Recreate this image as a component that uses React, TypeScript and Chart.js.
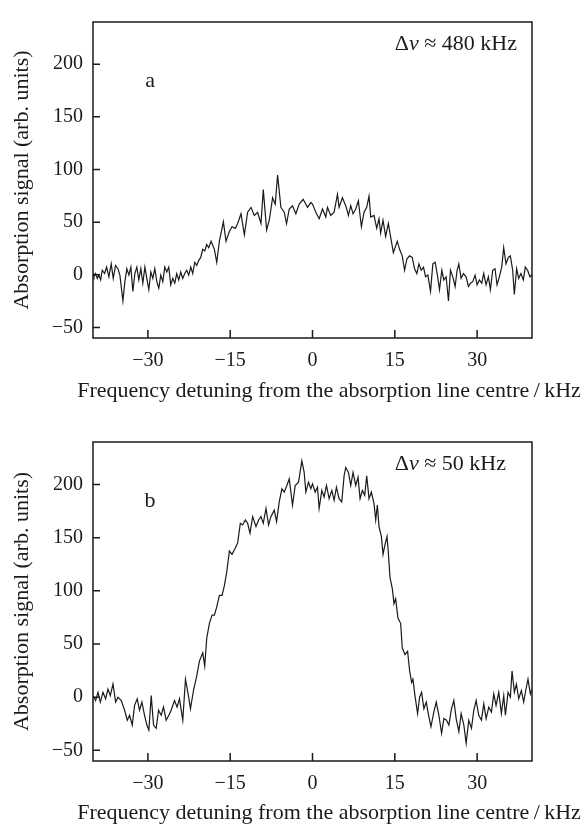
import React, { useEffect, useRef } from 'react';
import { Chart, registerables } from 'chart.js';

Chart.register(...registerables);

// ---- data ----
const X_TICKS = [-30, -15, 0, 15, 30];
const Y_TICKS = [-50, 0, 50, 100, 150, 200];
const X_TITLE = 'Frequency detuning from the absorption line centre\u2009/\u2009kHz';
const Y_TITLE = 'Absorption signal (arb. units)';
const PANEL_LETTERS = ['a', 'b'];
const LINEWIDTH_LABELS = ['480', '50'];

// panel a: detuning (kHz) and absorption signal (arb. units)
const aFreq = [
  -40.0, -39.83, -39.52, -39.22, -38.92, -38.61, -38.31, -37.89, -37.52, -37.1, -36.68, -36.31, -35.89, -35.46,
  -35.1, -34.55, -34.19, -33.83, -33.46, -33.1, -32.74, -32.37, -32.01, -31.65, -31.28, -30.92, -30.55, -30.19,
  -29.83, -29.46, -29.1, -28.74, -28.37, -28.01, -27.65, -27.28, -26.92, -26.55, -26.19, -25.83, -25.46, -25.1,
  -24.74, -24.37, -24.01, -23.65, -23.28, -22.92, -22.55, -22.19, -21.83, -21.46, -21.1, -20.74, -20.37, -20.01,
  -19.64, -19.28, -18.92,
  -18.48, -17.88, -17.45, -16.97, -16.24, -15.76, -15.15, -14.67, -14.06, -13.64, -13.03, -12.42, -11.82, -11.21,
  -10.61, -10.0, -9.39, -8.97, -8.36, -7.88, -7.27, -6.79, -6.36, -5.76, -5.15, -4.73, -4.24, -3.64, -3.03, -2.42,
  -1.7, -0.91, -0.3,
  0.0, 0.61, 1.21, 1.82, 2.42, 2.73, 3.33, 3.94, 4.55, 4.85, 5.45, 6.06, 6.55, 6.97, 7.39, 7.88, 8.36, 8.91,
  9.39, 9.88, 10.3, 10.61, 11.21, 11.7, 12.12, 12.42, 12.85, 13.33, 13.82, 14.12, 14.73, 15.45,
  15.87, 16.35, 16.78, 17.2, 17.69, 18.17, 18.6, 19.02, 19.39, 19.81, 20.23, 20.6, 21.02, 21.51, 21.93, 22.35,
  22.72, 23.14, 23.57, 23.93, 24.35, 24.78, 25.14, 25.57, 25.99, 26.35, 26.66, 27.08, 27.51, 27.99, 28.42, 28.78,
  29.2, 29.63, 29.99, 30.42, 30.84, 31.2, 31.63, 32.05, 32.42, 32.84, 33.26, 33.63, 34.05, 34.48, 34.84, 35.26,
  35.69, 36.05, 36.48, 36.78, 37.2, 37.57, 37.99, 38.42, 38.78, 39.2, 39.63, 40.0,
];
const aSignal = [
  1.2, -1.9, 1.2, -3.4, -0.3, -4.9, 4.3, 1.2, 7.3, -1.9, 10.4, -3.4, 8.9, 5.8,
  -0.3, -24.8, -6.5, 5.8, -0.3, 7.3, -15.7, 1.2, 7.3, -4.9, 5.8, -8.0, 7.3, -3.4,
  -14.1, 2.7, -3.4, 5.8, -6.5, -12.6, -0.3, -6.5, 7.3, 2.7, 7.3, -9.5, -3.4, -8.0,
  1.2, -4.9, 2.7, -3.4, 1.2, 4.3, -0.3, 7.3, 1.2, 11.9, 8.9, 13.5, 16.5, 24.2,
  22.6, 28.8, 25.7,
  31.9, 24.2, 11.9, 31.9, 50.3, 31.9, 41.1, 45.6, 44.1, 48.7, 57.9, 38.0, 59.4, 64.0,
  56.4, 59.4, 48.7, 80.9, 42.6, 51.8, 73.2, 67.1, 94.7, 64.0, 59.4, 48.7, 62.5, 65.6, 57.9, 67.1,
  71.7, 64.0, 68.6,
  67.1, 59.4, 53.3, 62.5, 54.8, 64.0, 56.4, 59.4, 76.3, 64.0, 73.2, 65.6, 56.4, 65.6, 57.9, 62.5, 70.2, 45.6,
  59.4, 64.0, 74.8, 54.8, 56.4, 44.1, 53.3, 39.5, 51.8, 36.5, 48.7, 39.5, 21.1, 31.9,
  24.2, 18.0, 4.3, 15.0, 18.0, 16.5, 5.8, 1.2, 10.4, 4.3, 7.3, -1.9, -0.3, -15.7, 10.4, 11.9,
  1.2, -14.1, 4.3, -4.9, -1.9, -24.8, 4.3, -1.9, -11.1, 4.3, 10.4, -3.4, 1.2, -1.9, -11.1, -8.0,
  -6.5, -0.3, -9.5, -4.9, -8.0, 1.2, -9.5, -1.9, -14.1, 4.3, 5.8, -9.5, -1.9, 7.3, 25.7, 10.4,
  16.5, 18.0, 4.3, -18.7, 5.8, -3.4, 1.2, -4.9, 7.3, 4.3, -1.9, 0.0,
];

// panel b: detuning (kHz) and absorption signal (arb. units)
const bFreq = [
  -40.0, -39.52, -39.09, -38.67, -38.18, -37.7, -37.27, -36.85, -36.36, -35.88, -35.45, -34.85, -34.24, -33.76,
  -33.33, -32.85, -32.42, -31.94, -31.52, -31.09, -30.61, -30.18, -29.82, -29.39, -28.97, -28.48, -28.06, -27.58,
  -27.15, -26.67, -26.18, -25.76, -25.15, -24.67, -24.24, -23.64, -23.15, -22.61, -22.24, -21.64, -21.09, -20.61,
  -20.0, -19.64, -19.27, -18.79, -18.3, -17.88, -17.45, -16.97, -16.48, -16.06, -15.64, -15.15, -14.67, -14.06,
  -13.64, -13.15, -12.73, -12.24, -11.82, -11.39, -10.91, -10.3, -9.82, -9.39, -8.97, -8.48, -8.0, -7.58, -6.97,
  -6.55, -6.06, -5.58, -5.15, -4.67, -4.24, -3.64, -3.15, -2.55, -1.94, -1.52, -1.21, -0.73, -0.3,
  0.0, 0.48, 0.91, 1.21, 1.7, 2.12, 2.55, 3.03, 3.52, 3.94, 4.36, 4.85, 5.33, 5.76, 6.06, 6.55, 6.97, 7.39,
  7.88, 8.3, 8.67, 9.09, 9.52, 9.88, 10.3, 10.73, 11.21, 11.52, 11.82, 12.12, 12.55, 12.85, 13.21, 13.58, 13.82,
  14.12, 14.55, 14.85, 15.15, 15.58, 16.06, 16.36, 16.85, 17.33, 17.7, 18.06, 18.3, 18.67, 19.15, 19.52, 19.88,
  20.3, 20.73, 21.21, 21.58, 22.12, 22.55, 23.03, 23.52, 23.94, 24.42, 24.85, 25.33, 25.76, 26.18, 26.67, 27.09,
  27.58, 28.0, 28.48, 28.97, 29.39, 29.82, 30.3, 30.79, 31.21, 31.64, 32.12, 32.61, 33.03, 33.45, 33.94, 34.42,
  34.85, 35.15, 35.64, 36.06, 36.36, 36.79, 37.15, 37.58, 38.06, 38.48, 38.91, 39.27, 39.7, 40.0,
];
const bSignal = [
  1.5, -3.1, 4.6, -4.6, 4.6, -1.5, 7.7, 1.5, 12.4, -4.6, 0.0, -3.1, -12.3, -21.6,
  -17.0, -26.2, -7.7, -1.5, -12.3, -4.6, -17.0, -26.2, -30.9, 1.5, -26.2, -29.3, -12.3, -17.0,
  -9.3, -21.6, -17.0, -12.3, -3.1, -9.3, -1.5, -21.6, 17.0, 1.5, -10.8, 7.7, 20.1, 34.0,
  41.7, 29.3, 55.6, 69.5, 77.2, 77.2, 84.9, 95.7, 95.7, 105.0, 117.3, 137.4, 134.3, 140.4,
  145.1, 163.6, 162.0, 166.7, 163.6, 154.3, 169.8, 160.5, 166.7, 169.8, 163.6, 177.5, 162.0, 169.8, 175.9,
  165.1, 183.6, 196.0, 192.9, 199.1, 205.3, 180.6, 199.1, 202.2, 222.2, 211.4, 192.9, 202.2, 196.0,
  200.6, 192.9, 197.5, 177.5, 194.5, 188.3, 199.1, 186.7, 194.5, 185.2, 197.5, 186.7, 183.6, 208.3, 216.1, 211.4, 199.1, 211.4,
  199.1, 206.8, 186.7, 194.5, 189.8, 208.3, 186.7, 192.9, 182.1, 166.7, 180.6, 160.5, 151.2, 134.3, 143.5, 151.2, 135.8,
  112.7, 101.9, 88.0, 92.6, 74.1, 69.5, 46.3, 40.1, 43.2, 24.7, 13.9, 17.0, 1.5, -15.4, 0.0, 4.6,
  -10.8, -4.6, -18.5, -27.8, -13.9, -4.6, -17.0, -33.9, -20.1, -21.6, -26.2, -10.8, -3.1, -20.1, -32.4, -15.4,
  -26.2, -43.2, -21.6, -29.3, -12.3, -3.1, -17.0, -21.6, -6.2, -20.1, -9.3, -13.9, 3.1, -7.7, 4.6, -15.4,
  1.5, -17.0, 4.6, 0.0, 24.7, 4.6, 12.4, -1.5, 6.2, -4.6, 7.7, 17.0, 3.1, 7.7,
];

// ---- styling ----
const SERIF = '"Liberation Serif", "Times New Roman", Times, serif';
const INK = '#1a1a1a';
const W = 587;

function fmt(v: number): string {
  return v < 0 ? '\u2212' + Math.abs(v) : String(v);
}

const decorPlugin = {
  id: 'decor',
  afterDraw(chart: any) {
    const o = chart.options.plugins.decor;
    const { ctx, chartArea: a } = chart;
    const xs = chart.scales.x;
    const ys = chart.scales.y;
    ctx.save();
    ctx.strokeStyle = INK;
    ctx.lineWidth = 1.5;
    ctx.strokeRect(a.left, a.top, a.right - a.left, a.bottom - a.top);
    ctx.beginPath();
    xs.ticks.forEach((t: any) => {
      const px = xs.getPixelForValue(t.value);
      ctx.moveTo(px, a.bottom);
      ctx.lineTo(px, a.bottom - 8);
    });
    ys.ticks.forEach((t: any) => {
      const py = ys.getPixelForValue(t.value);
      ctx.moveTo(a.left, py);
      ctx.lineTo(a.left + 7, py);
    });
    ctx.stroke();

    ctx.fillStyle = INK;
    ctx.textBaseline = 'middle';
    // x-axis title
    ctx.textAlign = 'center';
    ctx.font = `22px ${SERIF}`;
    ctx.fillText(X_TITLE, o.xTitleX, a.bottom + o.xTitleDy);
    // panel letter
    ctx.fillText(o.letter, xs.getPixelForValue(-29.6), ys.getPixelForValue(184));
    // line-width annotation
    ctx.textAlign = 'left';
    let px = xs.getPixelForValue(15);
    const py = ys.getPixelForValue(219);
    const parts: [string, boolean][] = [
      ['\u0394', false],
      ['\u03bd', true],
      [' \u2248 ' + o.width + ' kHz', false],
    ];
    for (const [s, it] of parts) {
      ctx.font = `${it ? 'italic ' : ''}22px ${SERIF}`;
      ctx.fillText(s, px, py);
      px += ctx.measureText(s).width;
    }
    ctx.restore();
  },
};

type PanelProps = {
  top: number;
  height: number;
  areaTop: number;
  areaBottom: number;
  freq: number[];
  signal: number[];
  letter: string;
  width: string;
  xTitleDy: number;
};

function Panel({ top, height, areaTop, areaBottom, freq, signal, letter, width, xTitleDy }: PanelProps) {
  const ref = useRef<HTMLCanvasElement>(null);
  useEffect(() => {
    const canvas = ref.current;
    if (!canvas) return;
    const chart = new Chart(canvas, {
      type: 'line',
      data: {
        datasets: [
          {
            data: freq.map((f, i) => ({ x: f, y: signal[i] })),
            borderColor: INK,
            borderWidth: 1.2,
            pointRadius: 0,
            tension: 0,
            fill: false,
          },
        ],
      },
      options: {
        animation: false,
        responsive: false,
        maintainAspectRatio: false,
        devicePixelRatio: 1,
        events: [],
        layout: { autoPadding: false, padding: { top: areaTop, right: W - 532, left: 0, bottom: 0 } },
        plugins: {
          legend: { display: false },
          tooltip: { enabled: false },
          decor: { letter, width, xTitleX: 329, xTitleDy },
        } as any,
        scales: {
          x: {
            type: 'linear',
            min: -40,
            max: 40,
            afterBuildTicks: (s: any) => {
              s.ticks = X_TICKS.map((v) => ({ value: v }));
            },
            afterFit: (s: any) => {
              s.height = height - areaBottom;
            },
            grid: { display: false, drawTicks: false },
            border: { display: false },
            ticks: {
              autoSkip: false,
              maxRotation: 0,
              padding: 11,
              color: INK,
              font: { family: SERIF, size: 20 },
              callback: (v: any) => fmt(Number(v)),
            },
          },
          y: {
            type: 'linear',
            min: -60,
            max: 240,
            afterBuildTicks: (s: any) => {
              s.ticks = Y_TICKS.map((v) => ({ value: v }));
            },
            afterFit: (s: any) => {
              s.width = 93;
            },
            grid: { display: false, drawTicks: false },
            border: { display: false },
            ticks: {
              padding: 10,
              color: INK,
              font: { family: SERIF, size: 20 },
              callback: (v: any) => fmt(Number(v)),
            },
            title: {
              display: true,
              text: Y_TITLE,
              color: INK,
              font: { family: SERIF, size: 22 },
              padding: { top: 9, bottom: 0 },
            },
          },
        },
      },
      plugins: [decorPlugin],
    } as any);
    return () => chart.destroy();
  }, []);
  return (
    <canvas
      ref={ref}
      width={W}
      height={height}
      style={{ position: 'absolute', left: 0, top, width: W, height, display: 'block' }}
    />
  );
}

export default function App() {
  return (
    <div style={{ position: 'absolute', left: 0, top: 0, width: W, height: 827, background: '#fff' }}>
      <Panel
        top={0}
        height={420}
        areaTop={12}
        areaBottom={338}
        freq={aFreq}
        signal={aSignal}
        letter={PANEL_LETTERS[0]}
        width={LINEWIDTH_LABELS[0]}
        xTitleDy={53}
      />
      <Panel
        top={420}
        height={407}
        areaTop={15}
        areaBottom={341}
        freq={bFreq}
        signal={bSignal}
        letter={PANEL_LETTERS[1]}
        width={LINEWIDTH_LABELS[1]}
        xTitleDy={52}
      />
    </div>
  );
}
